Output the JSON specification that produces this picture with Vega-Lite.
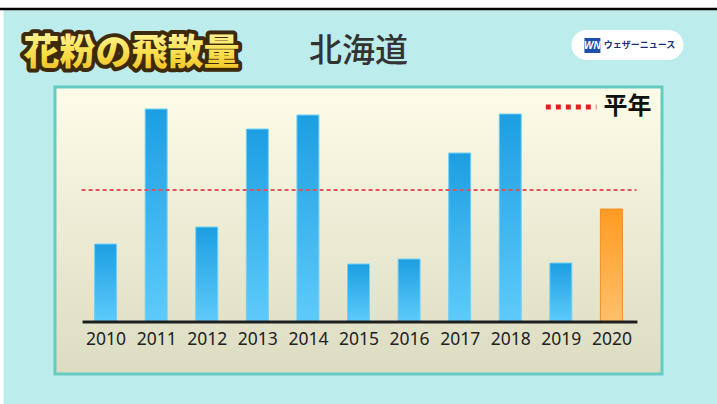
{
  "$schema": "https://vega.github.io/schema/vega-lite/v6.json",
  "width": 607,
  "height": 287,
  "autosize": {"type": "none"},
  "padding": {"left": 55, "top": 87, "right": 55, "bottom": 30},
  "background": "#bdeced",
  "config": {
    "view": {
      "fill": {"gradient": "linear", "x1": 0, "y1": 0, "x2": 0, "y2": 1, "stops": [{"offset": 0, "color": "#fcfce8"}, {"offset": 1, "color": "#dcdcc2"}]},
      "stroke": "#66cbc2",
      "strokeWidth": 3
    },
    "axisY": {"disable": true},
    "axisX": {
      "domain": false,
      "ticks": false,
      "grid": false,
      "labelAngle": 0,
      "labelFont": "Noto Sans",
      "labelFontSize": 17.5,
      "labelColor": "#222222",
      "labelPadding": 8,
      "offset": -52
    }
  },
  "data": {
    "values": [
      {"year": "2010", "value": 78},
      {"year": "2011", "value": 213},
      {"year": "2012", "value": 95},
      {"year": "2013", "value": 193},
      {"year": "2014", "value": 207},
      {"year": "2015", "value": 58},
      {"year": "2016", "value": 63},
      {"year": "2017", "value": 169},
      {"year": "2018", "value": 208},
      {"year": "2019", "value": 59},
      {"year": "2020", "value": 113}
    ]
  },
  "layer": [
    {
      "data": {"values": [{}]},
      "mark": {"type": "rect", "fill": "#ffffff", "xOffset": -120, "x2Offset": 120},
      "encoding": {
        "x": {"datum": "2010", "type": "nominal", "scale": {"type": "point", "padding": 1.04}},
        "x2": {"datum": "2020"},
        "y": {"datum": 324, "type": "quantitative", "scale": {"domain": [-52, 235], "nice": false, "zero": false}},
        "y2": {"datum": 314}
      }
    },
    {
      "data": {"values": [{}]},
      "mark": {"type": "rect", "fill": "#ffffff", "xOffset": -110, "x2Offset": -102},
      "encoding": {
        "x": {"datum": "2010", "type": "nominal"},
        "x2": {"datum": "2010"},
        "y": {"datum": 314, "type": "quantitative"},
        "y2": {"datum": -90}
      }
    },
    {
      "data": {"values": [{}]},
      "mark": {"type": "rule", "color": "#000000", "strokeWidth": 2.5, "xOffset": -120, "x2Offset": 120},
      "encoding": {
        "x": {"datum": "2010", "type": "nominal"},
        "x2": {"datum": "2020"},
        "y": {"datum": 313, "type": "quantitative"}
      }
    },
    {
      "data": {"values": [{}]},
      "mark": {"type": "rect", "fill": "#ffffff", "cornerRadius": 15, "xOffset": -40, "x2Offset": 72},
      "encoding": {
        "x": {"datum": "2020", "type": "nominal"},
        "x2": {"datum": "2020"},
        "y": {"datum": 292, "type": "quantitative"},
        "y2": {"datum": 262}
      }
    },
    {
      "data": {"values": [{}]},
      "mark": {"type": "rect", "fill": "#1f4fa8", "xOffset": -27, "x2Offset": -11},
      "encoding": {
        "x": {"datum": "2020", "type": "nominal"},
        "x2": {"datum": "2020"},
        "y": {"datum": 284, "type": "quantitative"},
        "y2": {"datum": 269}
      }
    },
    {
      "data": {"values": [{}]},
      "mark": {"type": "text", "text": "WN", "font": "Liberation Sans", "fontWeight": "bold", "fontStyle": "italic", "fontSize": 10, "fill": "#ffffff", "baseline": "middle", "align": "center", "xOffset": -19},
      "encoding": {
        "x": {"datum": "2020", "type": "nominal"},
        "y": {"datum": 276.5, "type": "quantitative"}
      }
    },
    {
      "data": {"values": [{}]},
      "mark": {"type": "text", "text": "ウェザーニュース", "font": "Noto Sans CJK JP", "fontWeight": "bold", "fontSize": 9, "fill": "#1b2f78", "baseline": "middle", "align": "center", "xOffset": 28},
      "encoding": {
        "x": {"datum": "2020", "type": "nominal"},
        "y": {"datum": 277, "type": "quantitative"}
      }
    },
    {
      "data": {"values": [{}]},
      "mark": {"type": "text", "text": "花粉の飛散量", "font": "Noto Sans CJK JP", "fontWeight": 900, "fontSize": 36, "fill": "#3d2a0a", "stroke": "#3d2a0a", "strokeWidth": 8, "strokeJoin": "round", "baseline": "middle", "align": "center", "xOffset": 26},
      "encoding": {
        "x": {"datum": "2010", "type": "nominal"},
        "y": {"datum": 268, "type": "quantitative"}
      }
    },
    {
      "data": {"values": [{}]},
      "mark": {"type": "text", "text": "花粉の飛散量", "font": "Noto Sans CJK JP", "fontWeight": 900, "fontSize": 36, "xOffset": 26,
        "fill": {"gradient": "linear", "x1": 0, "y1": 0, "x2": 0, "y2": 1, "stops": [{"offset": 0, "color": "#fffbb8"}, {"offset": 0.5, "color": "#fbe45a"}, {"offset": 1, "color": "#efbd16"}]},
        "baseline": "middle", "align": "center"},
      "encoding": {
        "x": {"datum": "2010", "type": "nominal"},
        "y": {"datum": 268, "type": "quantitative"}
      }
    },
    {
      "data": {"values": [{}]},
      "mark": {"type": "text", "text": "北海道", "font": "Noto Sans CJK JP", "fontWeight": 500, "fontSize": 33, "fill": "#333333", "baseline": "middle", "align": "center"},
      "encoding": {
        "x": {"datum": "2015", "type": "nominal"},
        "y": {"datum": 270, "type": "quantitative"}
      }
    },
    {
      "transform": [{"filter": "datum.year != '2020'"}],
      "mark": {"type": "bar", "width": 22, "stroke": "#74cff6", "strokeWidth": 1,
        "fill": {"gradient": "linear", "x1": 0, "y1": 0, "x2": 0, "y2": 1, "stops": [{"offset": 0, "color": "#1c9ee2"}, {"offset": 1, "color": "#5ecbfa"}]}},
      "encoding": {
        "x": {"field": "year", "type": "nominal", "title": null, "sort": null},
        "y": {"field": "value", "type": "quantitative"}
      }
    },
    {
      "transform": [{"filter": "datum.year == '2020'"}],
      "mark": {"type": "bar", "width": 22, "stroke": "#f0922e", "strokeWidth": 1,
        "fill": {"gradient": "linear", "x1": 0, "y1": 0, "x2": 0, "y2": 1, "stops": [{"offset": 0, "color": "#ff9b22"}, {"offset": 1, "color": "#ffc06a"}]}},
      "encoding": {
        "x": {"field": "year", "type": "nominal", "title": null},
        "y": {"field": "value", "type": "quantitative"}
      }
    },
    {
      "data": {"values": [{}]},
      "mark": {"type": "rule", "color": "#1e1e1e", "strokeWidth": 3, "xOffset": -23, "x2Offset": 26},
      "encoding": {
        "x": {"datum": "2010", "type": "nominal"},
        "x2": {"datum": "2020"},
        "y": {"datum": 0, "type": "quantitative"}
      }
    },
    {
      "data": {"values": [{"average": 132}]},
      "mark": {"type": "rule", "color": "#e2545a", "strokeWidth": 2, "strokeDash": [4, 3], "xOffset": -24, "x2Offset": 25},
      "encoding": {
        "x": {"datum": "2010", "type": "nominal"},
        "x2": {"datum": "2020"},
        "y": {"field": "average", "type": "quantitative"}
      }
    },
    {
      "data": {"values": [{}]},
      "mark": {"type": "rule", "color": "#e02020", "strokeWidth": 5, "strokeDash": [5, 5], "strokeCap": "butt", "xOffset": -15, "x2Offset": -15},
      "encoding": {
        "x": {"datum": "2019", "type": "nominal"},
        "x2": {"datum": "2020"},
        "y": {"datum": 215, "type": "quantitative"}
      }
    },
    {
      "data": {"values": [{}]},
      "mark": {"type": "text", "text": "平年", "font": "Noto Sans CJK JP", "fontWeight": "bold", "fontSize": 24, "fill": "#111111", "baseline": "middle", "align": "center", "xOffset": 16},
      "encoding": {
        "x": {"datum": "2020", "type": "nominal"},
        "y": {"datum": 215, "type": "quantitative"}
      }
    }
  ]
}
